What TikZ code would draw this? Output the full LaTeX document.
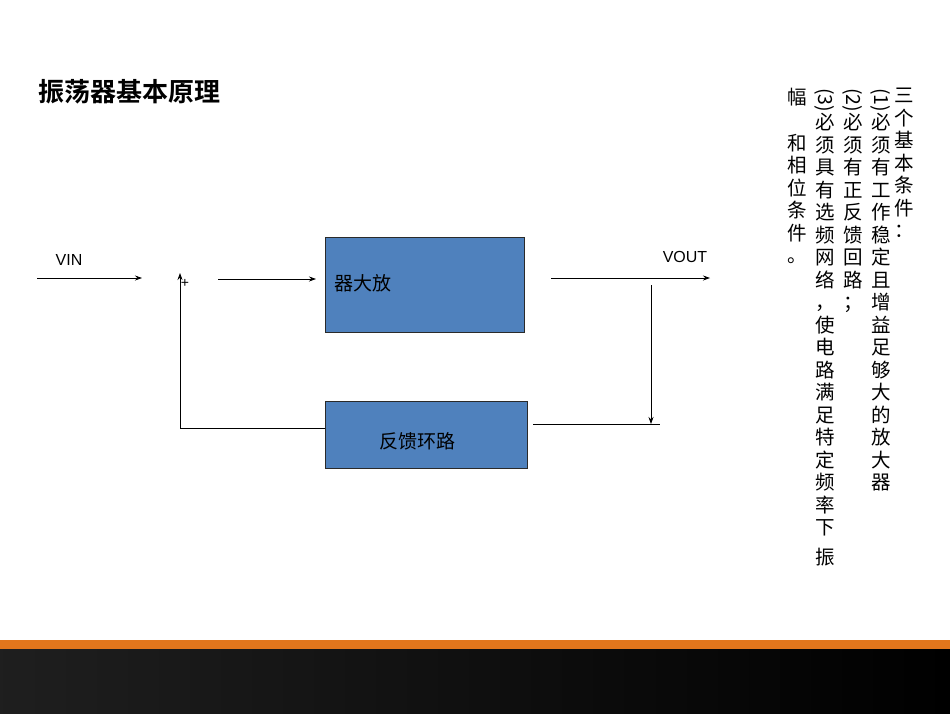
\documentclass[tikz,border=0pt]{standalone}
\usepackage{fontspec}
\setmainfont{Liberation Sans}
\newfontfamily\cjk{Noto Sans CJK SC}
\newfontfamily\cjkb{Noto Sans CJK SC Bold}
\usetikzlibrary{arrows.meta}
\definecolor{boxblue}{HTML}{4F81BD}
\definecolor{boxedge}{HTML}{2A2A2A}
\definecolor{orangeband}{HTML}{E2761C}
\tikzset{
  blk/.style={draw=boxedge, line width=0.8pt, fill=boxblue},
  wire/.style={line width=0.8pt},
  arr/.style={wire, -{Stealth[length=7pt,width=5pt]}},
  lbl/.style={font=\fontsize{16}{16}\selectfont},
  vcol/.style={anchor=north, align=center, inner sep=0pt, text width=20pt, font=\cjk\fontsize{19.5}{22.5}\selectfont},
}
\newcommand{\rp}[1]{\rotatebox{-90}{#1}}
\begin{document}
\begin{tikzpicture}[x=1pt,y=-1pt]
\useasboundingbox (0,0) rectangle (950,713);
\fill[white] (0,0) rectangle (950,713);
\fill[orangeband] (0,640) rectangle (950,649);
\shade[left color=black!88, right color=black] (0,649) rectangle (950,713);
\node[anchor=west, inner sep=0pt, font=\cjkb\fontsize{26}{26}\selectfont] (title) at (38,92) {振荡器基本原理};
% blocks
\node[blk, minimum width=199pt, minimum height=95pt, anchor=north west] (amp) at (325,237) {};
\node[anchor=west, inner sep=0pt, font=\cjk\fontsize{19}{19}\selectfont] (ampt) at (334,283) {器大放};
\node[blk, minimum width=202pt, minimum height=67pt, anchor=north west] (fb) at (325,401) {};
\node[inner sep=0pt, font=\cjk\fontsize{19}{19}\selectfont] (fbt) at (417,441) {反馈环路};
% labels
\node[lbl] (vin) at (69,260) {VIN};
\node[lbl] (vout) at (685,257) {VOUT};
\node[font=\fontsize{14}{14}\selectfont] (plus) at (185,283) {+};
% coordinates
\coordinate (vinA) at (37,278);
\coordinate (vinB) at (142,278);
\coordinate (sumOut) at (218,279);
\coordinate (ampIn) at (316,279);
\coordinate (ampOut) at (551,278);
\coordinate (outEnd) at (710,278);
\coordinate (tapTop) at (651,285);
\coordinate (tapBot) at (651,424);
\coordinate (fbR1) at (533,424);
\coordinate (fbR2) at (660,424);
\coordinate (fbL) at (180,428);
\coordinate (sumIn) at (180,273);
\draw[arr] (vinA) -- (vinB);
\draw[arr] (sumOut) -- (ampIn);
\draw[arr] (ampOut) -- (outEnd);
\draw[arr] (tapTop) -- (tapBot);
\draw[wire] (fbR1) -- (fbR2);
\draw[wire] (fb.west |- fbL) -- (fbL);
\draw[arr] (fbL) -- (sumIn);
% vertical text
\node[vcol] (c1) at (904,88) {三\\个\\基\\本\\条\\件\\：};
\node[vcol] (c2) at (881,88) {\rp{(1)}\\必\\须\\有\\工\\作\\稳\\定\\且\\增\\益\\足\\够\\大\\的\\放\\大\\器};
\node[vcol] (c3) at (853,88) {\rp{(2)}\\必\\须\\有\\正\\反\\馈\\回\\路\\；};
\node[vcol] (c4) at (825,88) {\rp{(3)}\\必\\须\\具\\有\\选\\频\\网\\络\\，\\使\\电\\路\\满\\足\\特\\定\\频\\率\\下\\[7pt]振};
\node[vcol] (c5) at (797,88) {幅\\[23pt]和\\相\\位\\条\\件\\。};
\end{tikzpicture}
\end{document}
